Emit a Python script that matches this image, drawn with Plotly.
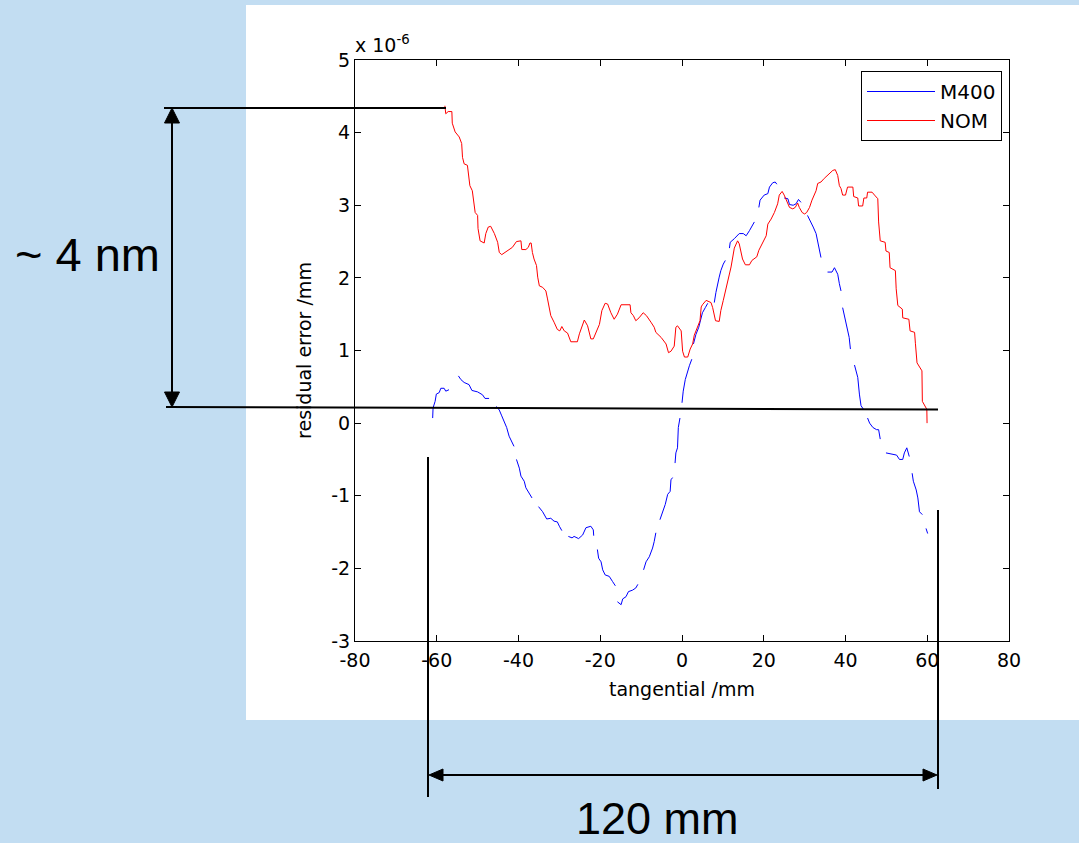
import plotly.graph_objects as go

# ---------------- data (y in units of 1e-6 mm) ----------------
nom_x = [-58.0, -57.8, -57.2, -56.3, -56.2, -55.5, -54.5, -53.9, -53.7, -53.3, -52.5, -52.2, -51.9, -51.3,
         -51.0, -50.6, -50.0, -49.9, -49.4, -48.4, -48.0, -47.4, -46.8, -45.9, -45.1, -44.7, -44.1, -43.1,
         -42.3, -41.5, -40.5, -39.4, -39.2, -38.2, -37.6, -37.2, -36.9, -36.6, -36.2, -35.6, -35.3, -34.9,
         -34.1, -33.3, -32.9, -32.5, -32.1, -31.3, -30.5, -29.9, -29.4, -28.8, -28.0, -27.2, -25.6, -25.1,
         -24.5, -23.9, -23.1, -22.3, -21.7, -21.2, -20.2, -19.6, -18.8, -18.2, -17.4, -16.6, -15.8, -14.9,
         -12.7, -12.5, -11.9, -11.3, -10.5, -9.5, -8.7, -7.6, -6.8, -6.4, -5.1, -3.9, -3.3, -2.7, -1.9,
         -1.5, -1.1, -0.2, 0.15, 0.6, 1.4, 2.0, 2.6, 3.0, 3.8, 4.4, 4.7, 5.0, 5.9, 7.1, 7.5, 8.2, 9.1, 9.5,
         10.1, 10.8, 11.4, 12.0, 12.8, 13.6, 14.0, 14.4, 14.8, 15.5, 16.5, 17.1, 18.3, 18.8, 19.7, 20.6,
         21.0, 21.8, 22.6, 23.4, 23.8, 24.5, 25.0, 25.5, 26.3, 27.1, 27.7, 28.3, 28.7, 29.4, 30.0, 30.5,
         31.2, 31.8, 32.4, 32.8, 33.2, 34.0, 34.8, 35.9, 36.9, 37.5, 38.1, 38.5, 38.9, 39.3, 40.0, 40.5,
         41.8, 42.0, 43.0, 43.2, 44.2, 44.5, 45.2, 45.4, 46.5, 47.1, 47.9, 48.1, 48.5, 49.7, 49.9, 50.7,
         50.9, 52.2, 52.4, 52.8, 53.9, 54.0, 55.5, 55.8, 56.9, 57.1, 57.5, 58.7, 58.8, 59.9, 59.95]
nom_y = [4.37, 4.26, 4.29, 4.29, 4.13, 4.01, 3.94, 3.85, 3.66, 3.57, 3.55, 3.43, 3.27, 3.20,
         3.07, 2.90, 2.86, 2.68, 2.51, 2.48, 2.61, 2.70, 2.71, 2.61, 2.49, 2.35, 2.32, 2.36,
         2.40, 2.42, 2.50, 2.51, 2.39, 2.39, 2.42, 2.48, 2.48, 2.35, 2.26, 2.17, 2.01, 1.89,
         1.87, 1.82, 1.71, 1.59, 1.48, 1.39, 1.29, 1.27, 1.33, 1.27, 1.24, 1.12, 1.12, 1.23,
         1.34, 1.42, 1.34, 1.16, 1.16, 1.23, 1.36, 1.55, 1.65, 1.64, 1.52, 1.43, 1.50, 1.63,
         1.63, 1.52, 1.48, 1.41, 1.45, 1.52, 1.48, 1.39, 1.32, 1.25, 1.18, 1.09, 0.97, 0.99, 1.06,
         1.32, 1.34, 1.27, 0.99, 0.91, 0.91, 1.02, 1.09, 1.21, 1.33, 1.41, 1.60, 1.63, 1.69, 1.66, 1.59, 1.41, 1.40, 1.55,
         1.69, 1.87, 2.01, 2.15, 2.41, 2.51, 2.47, 2.38, 2.26, 2.18, 2.18, 2.24, 2.29, 2.38, 2.49, 2.58,
         2.74, 2.81, 2.90, 3.02, 3.14, 3.19, 3.14, 3.08, 2.97, 2.95, 2.97, 3.03, 2.97, 2.90, 2.88, 2.90,
         2.97, 3.07, 3.16, 3.20, 3.30, 3.32, 3.37, 3.43, 3.48, 3.49, 3.41, 3.27, 3.23, 3.14, 3.14, 3.25,
         3.25, 3.12, 3.10, 2.99, 2.99, 3.10, 3.10, 3.18, 3.18, 3.14, 3.09, 2.77, 2.51, 2.49, 2.37, 2.35,
         2.14, 2.10, 1.85, 1.62, 1.57, 1.45, 1.43, 1.27, 1.25, 1.10, 0.83, 0.72, 0.30, 0.19, 0.00]

# M400 has gaps in the record (None = missing samples)
m400_x = [-61.0, -60.9, -60.4, -60.1, -59.4, -59.0, -58.2, -57.8, -57.0, None,
          -54.7, -54.1, -53.3, -52.1, -51.4, -50.0, -48.8, -48.2, -47.2, None,
          -45.4, -44.7, -44.1, -43.5, -42.9, -42.3, -41.6, -41.1, None,
          -40.5, -39.8, -39.4, -38.6, -38.2, -37.5, -36.7, None,
          -35.1, -34.1, -33.1, -32.1, -31.3, -30.5, -30.0, -29.4, None,
          -27.8, -26.9, -26.4, -25.3, -24.3, -23.5, -22.3, -21.7, -21.6, None,
          -20.7, -20.4, -19.8, -19.4, -18.8, -17.8, -17.0, -16.3, None,
          -15.8, -14.9, -14.5, -13.7, -13.1, -12.1, -11.3, -10.8, None,
          -9.4, -8.8, -8.0, -7.2, -6.8, -6.4, None,
          -5.4, -4.7, -4.1, -3.5, -2.9, -2.7, -2.3, None,
          -1.7, -1.5, -1.1, -0.9, -0.5, None,
          0.0, 0.3, 0.8, 1.4, 1.8, 2.4, None,
          2.8, 3.4, 4.1, 4.7, 5.0, 5.7, 6.3, None,
          7.9, 8.3, 9.1, 9.5, 10.1, 10.6, None,
          11.6, 11.8, 12.8, 14.0, 15.0, 15.7, 16.5, 17.7, None,
          18.8, 19.1, 20.1, 21.0, 21.4, 22.2, 22.8, 23.2, None,
          25.0, 25.9, 26.3, 27.2, 27.9, 28.5, 29.1, None,
          30.7, 31.6, 32.1, 32.8, 33.2, 33.6, 34.0, None,
          35.6, 36.7, 37.3, 38.1, 38.5, 38.9, None,
          39.3, 39.7, 40.5, 40.9, 41.2, None,
          42.2, 43.0, 43.4, 43.8, 44.4, None,
          45.4, 45.9, 46.7, 47.6, 48.1, 48.5, None,
          49.9, 51.2, 52.5, 53.2, 54.0, 54.4, 55.0, 55.6, None,
          56.3, 56.6, 57.3, 57.7, 58.1, 58.8, None,
          59.7, 60.1]
m400_y = [0.07, 0.21, 0.30, 0.40, 0.42, 0.48, 0.48, 0.44, 0.46, None,
          0.65, 0.60, 0.56, 0.53, 0.45, 0.43, 0.39, 0.34, 0.34, None,
          0.23, 0.18, 0.10, 0.03, -0.06, -0.18, -0.25, -0.32, None,
          -0.50, -0.62, -0.73, -0.80, -0.89, -0.96, -1.03, None,
          -1.15, -1.22, -1.32, -1.31, -1.35, -1.36, -1.42, -1.48, None,
          -1.56, -1.58, -1.56, -1.59, -1.54, -1.44, -1.42, -1.47, -1.55, None,
          -1.74, -1.86, -1.91, -2.02, -2.09, -2.11, -2.18, -2.24, None,
          -2.46, -2.50, -2.42, -2.39, -2.32, -2.30, -2.27, -2.22, None,
          -2.02, -1.91, -1.84, -1.72, -1.63, -1.51, None,
          -1.33, -1.22, -1.12, -0.98, -0.94, -0.78, -0.75, None,
          -0.55, -0.41, -0.34, -0.06, 0.07, None,
          0.28, 0.44, 0.60, 0.72, 0.79, 0.88, None,
          1.09, 1.22, 1.32, 1.43, 1.52, 1.59, 1.65, None,
          1.66, 1.80, 2.01, 2.10, 2.19, 2.24, None,
          2.41, 2.49, 2.54, 2.61, 2.61, 2.58, 2.65, 2.77, None,
          2.97, 3.07, 3.14, 3.16, 3.25, 3.31, 3.32, 3.29, None,
          3.10, 3.09, 3.01, 3.00, 3.02, 3.08, 3.04, None,
          2.86, 2.77, 2.70, 2.61, 2.51, 2.38, 2.28, None,
          2.08, 2.08, 2.14, 2.05, 1.92, 1.82, None,
          1.59, 1.48, 1.29, 1.18, 1.02, None,
          0.80, 0.63, 0.40, 0.24, 0.19, None,
          0.07, 0.00, -0.06, -0.09, -0.09, -0.22, None,
          -0.41, -0.43, -0.44, -0.50, -0.50, -0.41, -0.34, -0.46, None,
          -0.69, -0.80, -0.92, -1.03, -1.22, -1.26, None,
          -1.45, -1.52]

x_ticks = [-80, -60, -40, -20, 0, 20, 40, 60, 80]
y_ticks = [-3, -2, -1, 0, 1, 2, 3, 4, 5]

# ---------------- layout geometry ----------------
W, H = 1079, 843
L, R, T, B = 355, 1009, 60, 641
BG = "#C2DDF2"
FONT = "DejaVu Sans"
BIG = "Liberation Sans, Arial, sans-serif"


def px(xp):
    return (xp - L) / (R - L)


def py(yp):
    return (B - yp) / (B - T)


fig = go.Figure()
fig.add_trace(go.Scatter(x=m400_x, y=m400_y, mode="lines", name="M400",
                         line=dict(color="#0000FF", width=1), connectgaps=False))
fig.add_trace(go.Scatter(x=nom_x, y=nom_y, mode="lines", name="NOM",
                         line=dict(color="#FF0000", width=1)))

shapes = []
# white panel behind the chart
shapes.append(dict(type="rect", xref="paper", yref="paper", x0=px(246), x1=px(1079),
                   y0=py(720), y1=py(5), fillcolor="white", line=dict(width=0), layer="below"))


def seg(x0, y0, x1, y1, w=2):
    shapes.append(dict(type="line", xref="paper", yref="paper", x0=px(x0), y0=py(y0),
                       x1=px(x1), y1=py(y1), line=dict(color="black", width=w)))


def tri(pts):
    p = "M " + " L ".join(f"{px(a)},{py(b)}" for a, b in pts) + " Z"
    shapes.append(dict(type="path", xref="paper", yref="paper", path=p,
                       fillcolor="black", line=dict(color="black", width=1)))


# ~4 nm bracket
seg(164, 108, 446, 108)
seg(166, 407, 938, 409.5)
seg(172, 120, 172, 395)
tri([(172, 108), (164.5, 123), (179.5, 123)])
tri([(172, 407), (164.5, 392), (179.5, 392)])
# 120 mm bracket
seg(428, 457, 428, 797)
seg(938, 510, 938, 789)
seg(440, 775, 926, 775)
tri([(429, 775), (443, 769), (443, 781)])
tri([(937, 775), (923, 769), (923, 781)])

annotations = [
    dict(text="~ 4 nm", xref="paper", yref="paper", x=px(87), y=py(254), showarrow=False,
         xanchor="center", yanchor="middle", font=dict(family=BIG, size=47, color="black")),
    dict(text="120 mm", xref="paper", yref="paper", x=px(657), y=py(818), showarrow=False,
         xanchor="center", yanchor="middle", font=dict(family=BIG, size=45, color="black")),
    dict(text="x 10<sup>-6</sup>", xref="paper", yref="paper", x=px(353), y=py(58), showarrow=False,
         xanchor="left", yanchor="bottom", font=dict(family=FONT, size=19, color="black")),
]

axis_common = dict(showline=True, linecolor="black", linewidth=1, mirror="ticks",
                   ticks="inside", ticklen=6, tickcolor="black", tickwidth=1,
                   showgrid=False, zeroline=False,
                   tickfont=dict(family=FONT, size=19, color="black"))

fig.update_layout(
    width=W, height=H,
    margin=dict(l=L, r=W - R, t=T, b=H - B, autoexpand=False),
    paper_bgcolor=BG, plot_bgcolor="white",
    showlegend=True,
    legend=dict(x=px(1002), y=py(71), xanchor="right", yanchor="top",
                bgcolor="white", bordercolor="black", borderwidth=1,
                font=dict(family=FONT, size=20, color="black"), itemwidth=68,
                traceorder="normal"),
    xaxis=dict(range=[-80, 80], tickvals=x_ticks, ticktext=[str(v) for v in x_ticks],
               ticklabelstandoff=2,
               title=dict(text="tangential /mm", font=dict(family=FONT, size=19, color="black"), standoff=12),
               **axis_common),
    yaxis=dict(range=[-3, 5], tickvals=y_ticks, ticktext=[str(v) for v in y_ticks],
               title=dict(text="residual error /mm", font=dict(family=FONT, size=19, color="black"), standoff=14),
               **axis_common),
    shapes=shapes,
    annotations=annotations,
)

fig.write_html("out.html", config={"displayModeBar": False},
               post_script="document.body.style.margin='0';")
